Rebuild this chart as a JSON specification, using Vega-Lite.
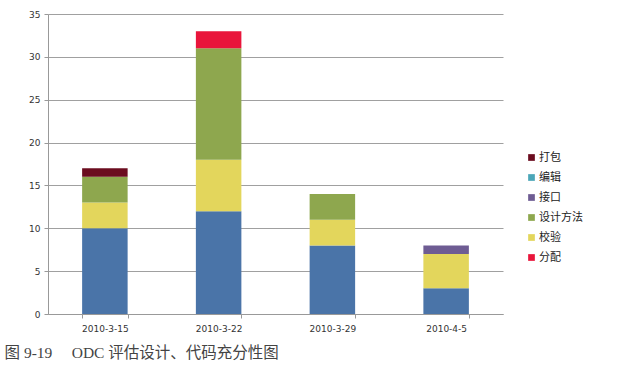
{
  "$schema": "https://vega.github.io/schema/vega-lite/v6.json",
  "autosize": "none",
  "width": 455,
  "height": 300,
  "padding": {"left": 48, "top": 14, "right": 137, "bottom": 63},
  "background": "white",
  "title": {
    "text": "图 9-19\u00a0\u00a0\u00a0\u00a0\u00a0ODC 评估设计、代码充分性图",
    "orient": "bottom",
    "anchor": "start",
    "dx": -24,
    "offset": 13,
    "font": "Liberation Serif, Noto Sans CJK SC",
    "fontSize": 15.5,
    "fontWeight": "normal",
    "color": "#444444"
  },
  "data": {
    "values": [
      {"date": "2010-3-15", "type": "功能", "ord": 0, "value": 10},
      {"date": "2010-3-15", "type": "校验", "ord": 1, "value": 3},
      {"date": "2010-3-15", "type": "设计方法", "ord": 2, "value": 3},
      {"date": "2010-3-15", "type": "打包", "ord": 3, "value": 1},
      {"date": "2010-3-22", "type": "功能", "ord": 0, "value": 12},
      {"date": "2010-3-22", "type": "校验", "ord": 1, "value": 6},
      {"date": "2010-3-22", "type": "设计方法", "ord": 2, "value": 13},
      {"date": "2010-3-22", "type": "分配", "ord": 3, "value": 2},
      {"date": "2010-3-29", "type": "功能", "ord": 0, "value": 8},
      {"date": "2010-3-29", "type": "校验", "ord": 1, "value": 3},
      {"date": "2010-3-29", "type": "设计方法", "ord": 2, "value": 3},
      {"date": "2010-4-5", "type": "功能", "ord": 0, "value": 3},
      {"date": "2010-4-5", "type": "校验", "ord": 1, "value": 4},
      {"date": "2010-4-5", "type": "接口", "ord": 3, "value": 1}
    ]
  },
  "mark": {"type": "bar", "stroke": null},
  "encoding": {
    "x": {
      "field": "date",
      "type": "nominal",
      "sort": ["2010-3-15", "2010-3-22", "2010-3-29", "2010-4-5"],
      "scale": {"paddingInner": 0.6, "paddingOuter": 0.3},
      "axis": {
        "title": null,
        "grid": false,
        "labelAngle": 0,
        "labelFont": "DejaVu Sans",
        "labelFontSize": 9,
        "labelColor": "#333333",
        "labelPadding": 6,
        "tickBand": "extent",
        "tickSize": 4,
        "tickColor": "#999999",
        "domainColor": "#999999"
      }
    },
    "y": {
      "field": "value",
      "type": "quantitative",
      "stack": "zero",
      "scale": {"domain": [0, 35]},
      "axis": {
        "title": null,
        "grid": true,
        "values": [0, 5, 10, 15, 20, 25, 30, 35],
        "labelFont": "DejaVu Sans",
        "labelFontSize": 9,
        "labelColor": "#333333",
        "labelPadding": 4,
        "tickSize": 4,
        "tickColor": "#999999",
        "domainColor": "#999999",
        "gridColor": "#a0a0a0",
        "gridWidth": 1
      }
    },
    "color": {
      "field": "type",
      "type": "nominal",
      "scale": {
        "domain": ["功能", "校验", "设计方法", "打包", "分配", "接口", "编辑"],
        "range": ["#4A74A8", "#E3D65C", "#8EA74E", "#6B0C1F", "#E9153B", "#6E5C93", "#4BA6B8"]
      },
      "legend": {
        "title": null,
        "values": ["打包", "编辑", "接口", "设计方法", "校验", "分配"],
        "orient": "none",
        "legendX": 478,
        "legendY": 138,
        "symbolType": "square",
        "symbolSize": 45,
        "symbolStrokeWidth": 0,
        "labelFont": "Noto Sans CJK SC",
        "labelFontSize": 11,
        "labelColor": "#222222",
        "labelOffset": 2,
        "rowPadding": 8
      }
    },
    "order": {"field": "ord", "type": "quantitative"}
  },
  "config": {
    "view": {"stroke": null}
  }
}
